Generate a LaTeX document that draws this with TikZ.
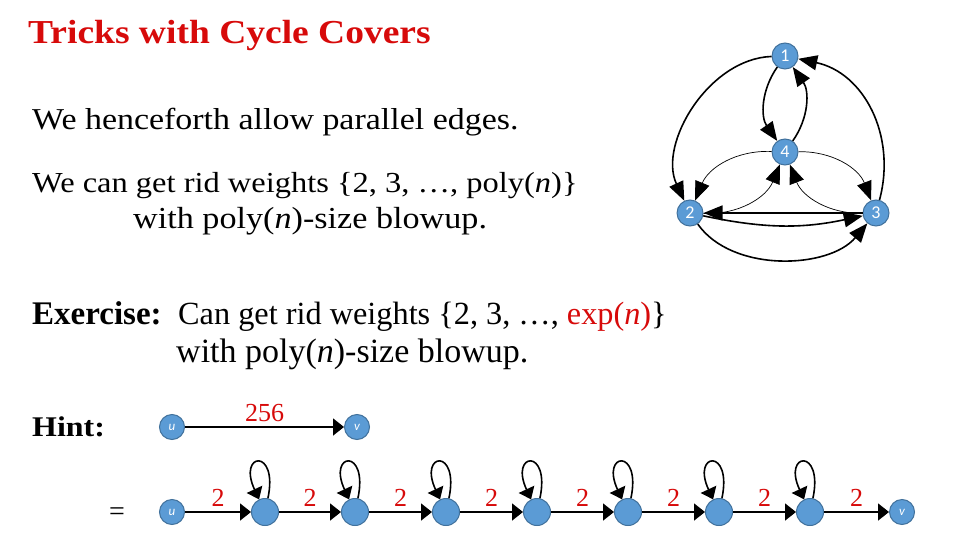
\documentclass[tikz,border=0pt]{standalone}
\usepackage{fontspec}
\setmainfont{Liberation Serif}
\newfontfamily\labelfont{Carlito}
\newfontfamily\wideserif[FakeStretch=1.12]{Liberation Serif}
\usepackage{xcolor}
\definecolor{slidered}{RGB}{215,10,10}
\definecolor{nodeblue}{RGB}{91,155,213}
\definecolor{nodeedge}{RGB}{65,113,156}
\usetikzlibrary{arrows.meta}

\begin{document}
\begin{tikzpicture}[
    x=1pt, y=1pt,
    vert/.style={circle, fill=nodeblue, draw=nodeedge, line width=1pt, minimum size=#1, inner sep=0pt, text=white, font=\labelfont\fontsize{18}{18}\selectfont},
    vert/.default=26pt,
    endpt/.style={vert=25pt, font=\labelfont\itshape\fontsize{13}{13}\selectfont},
    txt/.style={anchor=base west, inner sep=0pt},
    heavy/.style={-{Triangle[length=19pt, width=15pt]}, line width=1.6pt},
    light/.style={-{Triangle[length=19pt, width=15pt]}, line width=0.7pt},
    chain/.style={-{Triangle[length=11pt, width=17pt]}, line width=1.6pt},
    weight/.style={text=slidered, font=\fontsize{26}{26}\selectfont}
]
\useasboundingbox (0,0) rectangle (960,-540);

% Titel und Text
\node[txt, text=slidered, font=\wideserif\bfseries\fontsize{33.5}{33.5}\selectfont] (title) at (28,-44) {Tricks with Cycle Covers};
\node[txt, font=\wideserif\fontsize{30.3}{30.3}\selectfont] (parallel) at (32,-130) {We henceforth allow parallel edges.};
\node[txt, font=\wideserif\fontsize{29}{29}\selectfont] (poly1) at (32,-193) {We can get rid weights \{2, 3, \dots, poly(\textit{n})\}};
\node[txt, font=\wideserif\fontsize{30.5}{30.5}\selectfont] (poly2) at (133,-228) {with poly(\textit{n})-size blowup.};
\node[txt, font=\bfseries\fontsize{33}{33}\selectfont] (exercise) at (32,-324) {Exercise:};
\node[txt, font=\fontsize{32.3}{32.3}\selectfont] (exp1) at (178,-324) {Can get rid weights \{2, 3, \dots, \textcolor{slidered}{exp(\textit{n})}\}};
\node[txt, font=\fontsize{34}{34}\selectfont] (exp2) at (176,-362) {with poly(\textit{n})-size blowup.};
\node[txt, font=\wideserif\bfseries\fontsize{28.5}{28.5}\selectfont] (hint) at (32,-436) {Hint:};
\node[font=\fontsize{28}{28}\selectfont] (equals) at (117,-514) {=};

% Graph mit parallelen Kanten
\node[vert] (g1) at (785,-56) {1};
\node[vert] (g4) at (785,-152) {4};
\node[vert] (g2) at (690,-213) {2};
\node[vert] (g3) at (876,-213) {3};

\draw[heavy] (g1) to[bend right=35] (g4);
\draw[heavy] (g4) to[bend right=35] (g1);
\draw[heavy] (g1) to[out=182, in=115, looseness=0.95] (g2);
\draw[heavy] (g3) to[out=75, in=-12, looseness=1.05] (g1);
\draw[heavy] (g2) to[out=-55, in=230, looseness=0.9] (g3);
\draw[heavy] (g2) to[bend right=12] (g3);
\draw[heavy] (g3) -- (g2);
\draw[light] (g4) to[bend right=35] (g2);
\draw[light] (g2) to[bend right=35] (g4);
\draw[light] (g4) to[bend left=35] (g3);
\draw[light] (g3) to[bend left=35] (g4);

% Kante mit Gewicht 256
\node[endpt] (u) at (172,-427) {u};
\node[endpt] (v) at (357,-427) {v};
\draw[chain] (u) -- node[weight, above=1pt] {256} (v);

% Kette aus Kanten mit Gewicht 2
\node[endpt] (u2) at (172,-512) {u};
\foreach \i/\x in {1/265, 2/355, 3/446, 4/537, 5/628, 6/719, 7/810}
    \node[vert=27pt] (c\i) at (\x,-512) {};
\node[endpt] (v2) at (902,-512) {v};

\foreach \a/\b in {u2/c1, c1/c2, c2/c3, c3/c4, c4/c5, c5/c6, c6/c7, c7/v2}
    \draw[chain] (\a) -- node[weight, above=1pt] {2} (\b);
\foreach \i in {1,...,7}
    \draw[chain] (c\i) to[out=78, in=115, distance=52pt] (c\i);

\end{tikzpicture}
\end{document}
